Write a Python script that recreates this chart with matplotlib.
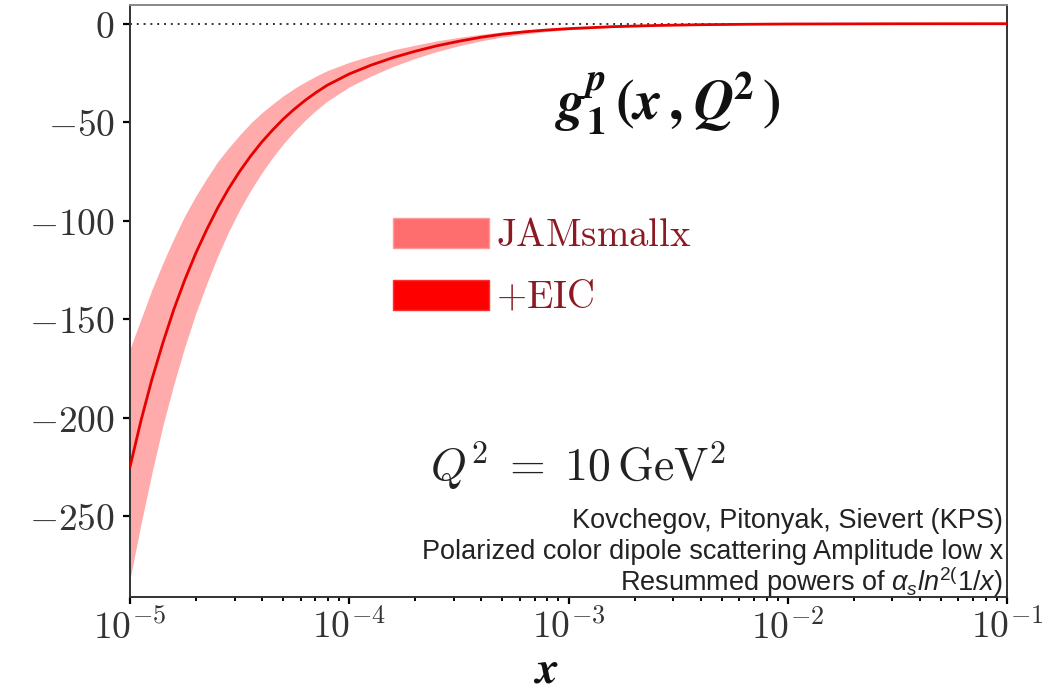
import numpy as np
import matplotlib
matplotlib.use('Agg')
import matplotlib.pyplot as plt
from matplotlib.patches import Patch
from matplotlib.ticker import FuncFormatter

plt.rcParams['mathtext.fontset'] = 'cm'
plt.rcParams['mathtext.rm'] = 'Liberation Sans'
plt.rcParams['mathtext.it'] = 'Liberation Sans:italic'
plt.rcParams['mathtext.bf'] = 'Liberation Sans:bold'

# g1^p(x, Q^2) at Q^2 = 10 GeV^2, log10(x) grid
log_x = [-5.0, -4.95, -4.9, -4.85, -4.8, -4.75, -4.7, -4.65, -4.6, -4.55,
         -4.5, -4.45, -4.4, -4.35, -4.3, -4.25, -4.2, -4.15, -4.1, -4.0,
         -3.9, -3.8, -3.7, -3.6, -3.5, -3.4, -3.3, -3.2, -3.1, -3.0,
         -2.8, -2.6, -2.4, -2.2, -2.0, -1.5, -1.0]
g1_central = [-225, -201.5, -180.5, -162, -145, -130, -116.5, -104.5, -93.5, -83.7,
              -75, -67.2, -60.2, -54, -48.3, -43.3, -38.8, -34.8, -31.2, -25.5,
              -21, -17.2, -14, -11.2, -8.9, -6.9, -5.3, -4.1, -3.2, -2.5,
              -1.5, -0.9, -0.5, -0.3, -0.15, -0.03, 0.0]
jam_upper = [-165, -150, -135, -121.5, -109, -97.5, -87.5, -78.5, -70, -63,
             -56.5, -50.5, -45.3, -40.8, -36.5, -32.8, -29.5, -26.5, -23.8, -19.6,
             -16.2, -13.3, -10.9, -8.7, -6.9, -5.4, -4.1, -3.2, -2.5, -1.95,
             -1.2, -0.7, -0.4, -0.24, -0.12, -0.02, 0.0]
jam_lower = [-282, -254, -228, -204, -183, -164, -147, -132, -118, -105.5,
             -94.5, -84.7, -75.9, -68, -60.9, -54.6, -48.9, -43.8, -39.3, -32.1,
             -26.5, -21.7, -17.6, -14.1, -11.2, -8.7, -6.7, -5.2, -4.0, -3.1,
             -1.9, -1.1, -0.6, -0.37, -0.19, -0.04, 0.0]

y_ticks = [0, -50, -100, -150, -200, -250]
legend_labels = [r'$\mathrm{JAMsmallx}$', r'$+\mathrm{EIC}$']
credits = ['Kovchegov, Pitonyak, Sievert (KPS)',
           'Polarized color dipole scattering Amplitude low x']

x = 10.0 ** np.array(log_x)

fig = plt.figure(figsize=(10.51, 6.92), dpi=100)
ax = fig.add_axes([130 / 1051, 95 / 692, 877 / 1051, 592 / 692])

ax.fill_between(x, jam_lower, jam_upper, color='#ffabab', lw=0, zorder=2)
ax.plot(x, g1_central, color='#e60000', lw=2.0, zorder=3)
ax.axhline(0, color='#333333', ls=(0, (1, 2.5)), lw=1.4, zorder=1)

ax.set_xscale('log')
ax.set_xlim(1e-5, 1e-1)
ax.set_ylim(-291, 9.5)
ax.set_yticks(y_ticks)
ax.set_yticklabels([r'$%d$' % v for v in y_ticks])
ax.xaxis.set_major_formatter(
    FuncFormatter(lambda v, p: r'$10^{%d}$' % int(round(np.log10(v)))))
ax.tick_params(axis='both', which='major', labelsize=27, length=5, width=1.6,
               labelcolor='#333333', pad=6)
ax.tick_params(axis='x', which='minor', length=3, width=1.4)
ax.tick_params(axis='x', which='major', pad=4)
for s in ax.spines.values():
    s.set_color('#333333')
    s.set_linewidth(1.4)
ax.spines['top'].set_color('#888888')

handles = [Patch(facecolor='#ff6e6e', edgecolor='#ff9a9a', lw=1),
           Patch(facecolor='#ff0000', edgecolor='#ff3030', lw=1)]
leg = ax.legend(handles, legend_labels, loc='upper left',
                bbox_to_anchor=(244 / 877, 1 - 192 / 592), frameon=False,
                fontsize=28, handlelength=2.45, handleheight=0.8,
                handletextpad=0.2, labelspacing=0.62, borderpad=0.0)
for t in leg.get_texts():
    t.set_color('#8b1a24')

fig.text(668 / 1051, 1 - 102 / 692,
         r'$\mathbfit{g}_{\mathbf{1}}^{\mathbfit{p}}\,\mathbf{(}\mathbfit{x}\,\mathbf{,}\;\mathbfit{Q}^{\mathbf{2}}\,\mathbf{)}$',
         math_fontfamily='stix', fontsize=40, ha='center', va='center',
         color='#111111')

fig.text(578 / 1051, 1 - 466 / 692, r'$Q^2\;=\;10\,\mathrm{GeV}^2$',
         fontsize=33, ha='center', va='center', color='#222222')

fig.text(546 / 1051, 1 - 670 / 692, r'$\mathbfit{x}$', math_fontfamily='stix',
         fontsize=33, ha='center', va='center', color='#111111')

# credit lines in the lower right corner
ys = [521, 552]
for line, yy in zip(credits, ys):
    fig.text(1003 / 1051, 1 - yy / 692, line, family='Liberation Sans',
             fontsize=19.5, ha='right', va='center', color='#222222')
fig.text(1003 / 1051, 1 - 582 / 692,
         r'Resummed powers of $\alpha_s\mathit{ln}^{2(}\mathit{1/x)}$',
         family='Liberation Sans', math_fontfamily='custom',
         fontsize=19.5, ha='right', va='center', color='#222222')

fig.savefig('out.png', dpi=100)
